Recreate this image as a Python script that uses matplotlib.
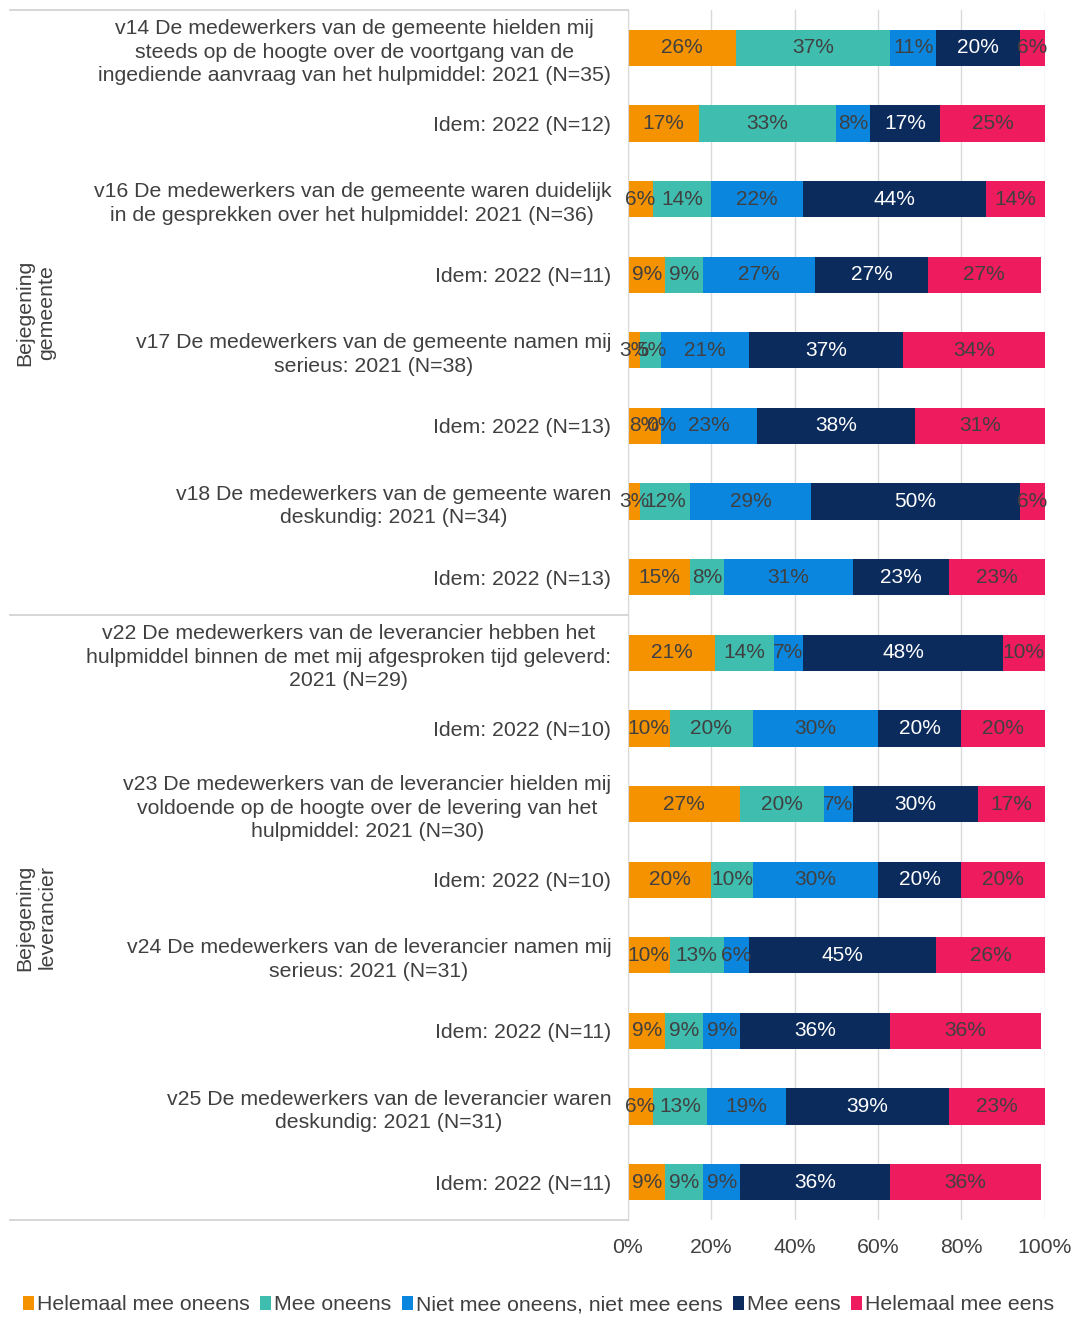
import numpy as np
import matplotlib.pyplot as plt
from matplotlib.lines import Line2D
from matplotlib.patches import Patch
import matplotlib.transforms as mtransforms

plt.rcParams['font.family'] = ['Liberation Sans', 'DejaVu Sans']

# answer categories and colours
categories = ['Helemaal mee oneens', 'Mee oneens', 'Niet mee oneens, niet mee eens',
              'Mee eens', 'Helemaal mee eens']
colors = ['#F59200', '#3FBDAF', '#0B86DE', '#0B2B5C', '#EE1B5F']

questions = [
    'v14 De medewerkers van de gemeente hielden mij\nsteeds op de hoogte over de voortgang van de\ningediende aanvraag van het hulpmiddel: 2021 (N=35)',
    'Idem: 2022 (N=12)',
    'v16 De medewerkers van de gemeente waren duidelijk\nin de gesprekken over het hulpmiddel: 2021 (N=36)',
    'Idem: 2022 (N=11)',
    'v17 De medewerkers van de gemeente namen mij\nserieus: 2021 (N=38)',
    'Idem: 2022 (N=13)',
    'v18 De medewerkers van de gemeente waren\ndeskundig: 2021 (N=34)',
    'Idem: 2022 (N=13)',
    'v22 De medewerkers van de leverancier hebben het\nhulpmiddel binnen de met mij afgesproken tijd geleverd:\n2021 (N=29)',
    'Idem: 2022 (N=10)',
    'v23 De medewerkers van de leverancier hielden mij\nvoldoende op de hoogte over de levering van het\nhulpmiddel: 2021 (N=30)',
    'Idem: 2022 (N=10)',
    'v24 De medewerkers van de leverancier namen mij\nserieus: 2021 (N=31)',
    'Idem: 2022 (N=11)',
    'v25 De medewerkers van de leverancier waren\ndeskundig: 2021 (N=31)',
    'Idem: 2022 (N=11)',
]

# percentages per category, one value per question row
helemaal_oneens = [26, 17, 6, 9, 3, 8, 3, 15, 21, 10, 27, 20, 10, 9, 6, 9]
oneens = [37, 33, 14, 9, 5, 0, 12, 8, 14, 20, 20, 10, 13, 9, 13, 9]
neutraal = [11, 8, 22, 27, 21, 23, 29, 31, 7, 30, 7, 30, 6, 9, 19, 9]
eens = [20, 17, 44, 27, 37, 38, 50, 23, 48, 20, 30, 20, 45, 36, 39, 36]
helemaal_eens = [6, 25, 14, 27, 34, 31, 6, 23, 10, 20, 17, 20, 26, 36, 23, 36]

groups = ['Bejegening\ngemeente', 'Bejegening\nleverancier']
group_rows = [(0, 7), (8, 15)]

series = [helemaal_oneens, oneens, neutraal, eens, helemaal_eens]
text_col = '#404040'

fig = plt.figure(figsize=(10.77, 13.19), dpi=100)
ax = fig.add_axes([0.583, 0.0751, 0.387, 0.9173])

y = np.arange(len(questions))
left = np.zeros(len(questions))
for name, vals, col in zip(categories, series, colors):
    v = np.array(vals) / 100.0
    bars = ax.barh(y, v, left=left, height=0.48, color=col, label=name, zorder=2)
    lab_col = 'white' if col == '#0B2B5C' else text_col
    ax.bar_label(bars, labels=[f'{x}%' for x in vals], label_type='center',
                 color=lab_col, fontsize=15)
    left += v

ax.set_xlim(0, 1)
ax.set_ylim(len(questions) - 0.5, -0.5)
ax.set_xticks(np.arange(0, 1.01, 0.2))
ax.set_xticklabels([f'{int(t*100)}%' for t in np.arange(0, 1.01, 0.2)])
ax.set_yticks(y)
ax.set_yticklabels(questions, multialignment='center', linespacing=1.3)
ax.tick_params(axis='both', length=0, labelsize=15.3, labelcolor=text_col)
ax.tick_params(axis='y', pad=12)
ax.tick_params(axis='x', pad=13)
ax.grid(axis='x', color='#D9D9D9', linewidth=1, zorder=0)
for s in ['top', 'right', 'bottom']:
    ax.spines[s].set_visible(False)
ax.spines['left'].set_color('#D9D9D9')

# group separators and group names on the far left
trans = mtransforms.blended_transform_factory(fig.transFigure, ax.transData)
x0, x1 = 10 / 1077, 0.583
for yy in [-0.5, 7.5, 15.5]:
    fig.add_artist(Line2D([x0, x1], [yy, yy], transform=trans, color='#D0D0D0', linewidth=1.2))
for g, (a, b) in zip(groups, group_rows):
    fig.text(36 / 1077, (a + b) / 2, g, transform=trans, rotation=90, ha='center', va='center',
             multialignment='center', fontsize=15.3, color=text_col)

handles = [Patch(facecolor=c, edgecolor='none') for c in colors]
fig.legend(handles, categories, loc='center', bbox_to_anchor=(0.5, 1 - 1305 / 1319), ncol=5,
           frameon=False, fontsize=15.3, labelcolor=text_col, handlelength=0.5, handleheight=0.6,
           handletextpad=0.15, columnspacing=0.5)

fig.savefig('out.png', dpi=100)
